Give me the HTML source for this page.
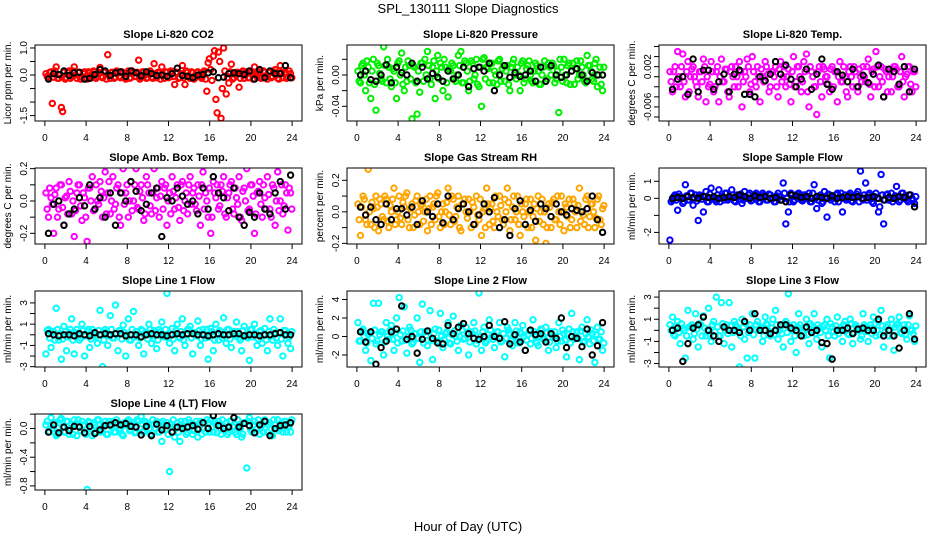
<!DOCTYPE html>
<html><head><meta charset="utf-8"><style>
html,body{margin:0;padding:0;background:#fff;}
svg{display:block;font-family:"Liberation Sans",sans-serif;}
</style></head><body>
<svg id="chart" width="936" height="540" viewBox="0 0 936 540">
<rect x="0" y="0" width="936" height="540" fill="#fff"/>
<text x="468" y="13" text-anchor="middle" font-size="13">SPL_130111  Slope Diagnostics</text>
<text x="468" y="531" text-anchor="middle" font-size="13">Hour of Day (UTC)</text>
</svg>
<script>
const xTicks=[0,4,8,12,16,20,24];
const co2Color=[0.05,-0.1,0.12,-0.08,0.3,-0.12,-1.2,0.1,-0.1,0.15,-0.05,0.3,-0.12,0.1,-0.08,0.12,-0.15,0.08,-0.1,0.12,-0.05,0.28,-0.1,0.1,0.75,-0.12,0.1,-0.08,0.12,-0.1,0.08,-0.15,0.15,-0.1,0.1,-0.05,0.55,-0.1,0.12,-0.12,0.1,-0.08,0.42,-0.1,0.08,0.3,-0.12,0.1,-0.08,0.12,-0.35,0.1,-0.1,0.35,-0.35,0.1,-0.12,0.08,-0.1,0.12,-0.05,0.1,-0.15,0.45,0.2,0.7,-0.9,0.85,-1.6,1.0,-0.7,-0.3,0.4,-0.1,0.1,-0.45,0.08,-0.12,0.12,-0.1,0.1,0.3,-0.08,0.12,-0.1,0.1,-0.15,0.12,-0.05,0.2,-0.12,0.35,-0.1,0.1,-0.08,0.05];
const co2Band=[-0.05,0.1,-1.05,0.15,-0.12,0.0,-1.35,-0.15,0.08,-0.12,0.15,0.0,0.1,-0.15,0.05,-0.1,0.12,0.0,0.15,-0.12,0.1,-0.05,0.12,-0.15,0.0,0.1,-0.12,0.15,-0.05,0.12,-0.1,0.05,-0.12,0.15,-0.05,0.1,-0.15,0.12,0.0,-0.1,0.15,-0.12,0.05,0.1,-0.15,0.0,0.12,-0.1,0.15,-0.05,0.1,-0.12,0.05,-0.1,0.15,-0.05,0.12,-0.15,0.1,0.0,-0.12,0.15,-0.6,0.6,-0.2,0.9,-1.4,0.5,-0.5,0.15,-0.1,0.12,-0.15,0.05,0.1,-0.12,0.15,0.0,-0.1,0.12,-0.15,0.05,0.1,-0.12,0.15,-0.05,0.1,-0.1,0.12,0.0,-0.15,0.1,0.05,-0.12,0.15,-0.1];
const co2Black=[-0.15,0.05,0.02,0.15,-0.02,0.08,0.1,-0.15,-0.12,0.02,0.2,0.15,-0.02,0.08,0.12,-0.05,0.15,0.08,-0.03,0.12,0.05,-0.02,0.0,-0.05,0.05,0.25,-0.02,-0.05,-0.1,0.0,0.02,0.08,0.12,-0.1,-0.08,0.05,0.08,0.05,0.02,0.15,-0.15,0.2,-0.1,0.15,0.05,0.05,0.35,-0.1];
const presColor=[0.005,-0.01,0.015,-0.02,0.01,-0.03,0.02,-0.045,0.012,-0.005,0.036,-0.01,0.01,-0.015,0.005,-0.03,0.018,0.028,-0.02,-0.008,0.012,-0.056,0.01,-0.05,-0.022,0.015,0.02,0.03,-0.005,0.01,-0.03,0.025,0.015,-0.02,0.01,-0.028,0.005,0.012,-0.008,0.025,0.03,-0.01,0.015,-0.02,0.018,-0.005,0.02,-0.015,-0.04,0.022,0.01,-0.01,0.015,0.005,-0.012,0.02,0.008,-0.008,0.012,-0.02,0.015,0.0,0.01,-0.02,0.018,-0.005,0.012,0.0,-0.01,0.015,0.005,-0.012,0.01,-0.008,0.015,0.0,0.012,-0.005,-0.048,0.01,0.02,-0.01,0.015,0.005,-0.012,0.018,0.0,0.01,-0.008,0.025,0.012,-0.005,0.015,-0.015,0.01,-0.02];
const presBand=[-0.008,0.012,0.0,0.018,-0.01,0.005,-0.012,0.015,0.002,-0.008,0.012,0.02,-0.005,0.008,-0.01,0.015,0.0,-0.012,0.01,0.018,-0.005,0.012,-0.01,0.005,0.015,-0.008,0.0,0.012,-0.012,0.018,0.005,-0.005,0.01,0.02,-0.01,0.008,0.015,-0.005,0.0,0.012,-0.01,0.018,0.005,-0.008,0.015,0.0,-0.012,0.01,0.02,-0.005,0.008,0.015,-0.01,0.0,0.018,-0.008,0.012,0.005,-0.012,0.01,0.02,-0.005,0.0,0.015,-0.01,0.008,0.018,-0.008,0.005,0.012,-0.012,0.0,0.018,-0.005,0.01,0.015,-0.01,0.005,0.02,-0.008,0.0,0.012,-0.012,0.015,0.008,-0.005,0.018,0.0,-0.01,0.012,0.005,-0.008,0.02,0.0,-0.012,0.01];
const presBlack=[0.0,0.005,-0.006,-0.008,0.0,0.013,-0.01,0.01,0.003,0.0,0.015,-0.008,0.01,-0.005,0.002,-0.003,-0.008,0.005,-0.005,0.0,0.01,-0.015,0.008,0.01,0.005,0.015,-0.02,0.0,0.012,-0.003,0.003,-0.002,0.0,0.005,-0.008,0.01,-0.008,0.012,0.0,-0.003,0.0,0.005,0.008,0.0,-0.008,0.003,0.0,0.0];
const tempColor=[0.001,-0.003,0.002,0.005,-0.002,0.0045,-0.004,0.003,0.0,0.002,-0.001,-0.004,0.001,0.0035,-0.005,-0.002,0.003,-0.003,0.001,-0.005,0.0035,-0.001,0.0015,-0.004,0.002,-0.002,0.0,0.003,-0.006,0.001,0.0035,-0.003,0.004,-0.001,0.002,-0.005,0.0,0.003,0.0005,-0.002,0.001,0.002,-0.004,0.003,0.0,-0.002,0.0015,-0.005,0.004,-0.001,0.002,-0.003,0.003,0.0045,-0.006,0.001,-0.002,-0.0075,0.002,-0.004,0.0015,0.0,-0.003,0.002,0.001,-0.005,0.003,-0.001,0.0,-0.004,0.002,-0.002,0.001,-0.003,0.0,0.002,-0.001,0.0035,-0.004,0.0015,0.005,-0.002,0.002,-0.004,0.001,0.0,-0.003,0.002,0.0015,-0.002,0.004,-0.004,0.0005,0.002,-0.003,0.001];
const tempBand=[-0.001,0.001,-0.002,0.0,0.002,-0.001,0.001,-0.003,0.0015,0.0,-0.002,0.001,-0.001,0.002,0.0,-0.0015,0.001,-0.002,0.002,0.0,-0.001,0.0015,-0.003,0.001,0.0,0.002,-0.002,0.001,-0.001,0.0,0.002,-0.0015,0.001,-0.002,0.0,0.0015,-0.001,0.002,-0.003,0.001,0.0,-0.002,0.0015,-0.001,0.002,0.0,-0.0015,0.001,-0.002,0.002,0.0,-0.001,0.001,-0.003,0.002,0.0,-0.002,0.001,-0.001,0.002,0.0,-0.0015,0.0015,-0.002,0.001,0.0,-0.001,0.002,-0.003,0.001,0.0,0.002,-0.002,0.0015,-0.001,0.0,0.002,-0.0015,0.001,-0.002,0.002,0.0,-0.001,0.0015,-0.003,0.001,0.0,0.002,-0.002,0.001,-0.001,0.0,0.002,-0.0015,0.001,-0.002];
const tempBlack=[-0.0025,-0.0005,0.0,-0.0035,0.0035,-0.003,0.0013,0.0013,-0.0025,-0.001,0.0005,-0.003,0.0005,0.0013,-0.0035,-0.0035,-0.004,0.0,-0.0008,0.0005,0.003,0.0005,0.0023,-0.0005,-0.002,-0.0005,0.0015,-0.0025,0.0005,0.0035,-0.0015,-0.0025,0.001,0.0003,-0.001,0.0015,-0.002,0.0003,-0.0012,0.0005,0.0023,-0.004,0.0015,0.001,-0.0015,0.002,-0.003,0.0015];
const ambColor=[0.05,-0.1,0.02,-0.2,0.08,-0.05,0.1,-0.15,0.03,0.12,-0.08,-0.22,0.05,0.1,-0.12,0.02,-0.25,0.08,0.15,-0.05,0.0,0.12,-0.1,0.18,0.05,-0.08,0.15,-0.02,0.1,-0.15,0.2,0.05,-0.1,0.12,0.0,0.2,-0.05,0.1,-0.12,0.15,0.05,-0.08,0.2,0.02,-0.1,0.12,0.08,-0.15,0.05,0.15,-0.05,0.1,-0.12,0.12,0.0,-0.08,0.15,0.05,-0.02,0.1,-0.15,0.18,0.05,-0.1,-0.2,0.12,0.02,-0.05,0.1,0.15,-0.1,0.05,0.12,-0.08,0.02,0.15,-0.12,0.08,0.2,-0.05,0.1,-0.2,0.05,0.12,-0.1,0.02,0.15,-0.05,0.1,-0.15,0.18,0.0,-0.08,0.1,-0.18,0.05];
const ambBand=[-0.05,0.08,-0.02,0.04,-0.1,0.1,-0.04,0.02,-0.08,0.06,0.0,-0.06,0.1,-0.03,0.05,-0.1,0.08,0.0,-0.06,0.1,-0.02,0.06,0.02,-0.08,0.12,0.0,-0.05,0.08,-0.1,0.05,-0.02,0.1,0.0,-0.06,0.1,-0.04,0.06,0.02,-0.08,0.1,-0.03,0.05,-0.06,0.08,0.03,-0.05,0.1,0.0,-0.08,0.06,0.02,-0.04,0.1,-0.06,0.05,0.1,-0.02,0.08,-0.06,0.03,0.1,-0.05,0.0,0.08,-0.1,0.05,0.1,-0.03,0.06,-0.08,0.02,0.1,-0.05,0.08,-0.02,-0.1,0.06,0.0,-0.06,0.1,0.03,-0.08,0.06,-0.02,0.1,-0.05,0.04,-0.1,0.08,0.0,-0.06,0.1,-0.03,0.05,0.08,-0.05];
const ambBlack=[-0.2,-0.02,0.0,-0.15,-0.08,-0.05,0.02,-0.03,0.1,-0.05,0.02,-0.1,0.05,-0.15,0.05,0.0,0.12,0.06,-0.06,-0.02,0.05,0.08,-0.22,0.02,0.0,0.08,0.03,-0.02,0.0,-0.08,0.08,-0.05,0.15,0.05,0.02,-0.06,0.08,-0.1,-0.15,-0.07,-0.1,0.05,-0.05,-0.08,0.05,0.12,-0.05,0.16];
const rhColor=[0.05,-0.15,0.1,-0.05,0.27,-0.08,0.02,0.1,-0.12,0.05,-0.05,0.08,-0.1,0.0,0.15,-0.05,0.1,-0.08,0.03,0.12,-0.1,0.05,-0.02,0.1,-0.08,0.05,0.0,-0.12,0.1,0.03,-0.05,0.12,-0.1,0.05,0.0,0.15,-0.08,0.08,-0.03,0.1,-0.12,0.05,0.0,0.08,-0.1,0.03,0.1,-0.05,-0.15,0.02,0.15,-0.08,0.05,-0.1,0.0,0.1,-0.05,0.08,0.15,-0.12,0.03,-0.05,0.1,-0.15,0.0,0.05,-0.1,0.08,-0.03,-0.18,0.1,0.0,-0.08,-0.2,0.05,-0.1,0.08,-0.05,0.0,0.1,-0.12,0.03,0.08,-0.05,0.05,-0.1,0.15,0.0,-0.08,0.1,-0.03,0.05,-0.1,0.08,-0.05,0.02];
const rhBand=[-0.05,0.03,0.08,-0.08,0.0,0.06,-0.1,0.03,0.08,-0.03,0.1,-0.06,0.04,0.08,-0.08,0.0,-0.04,0.06,0.1,-0.05,0.02,-0.1,0.07,0.0,0.04,-0.06,0.08,0.02,-0.08,0.05,0.1,-0.03,0.0,-0.08,0.06,-0.02,0.1,-0.06,0.03,-0.1,0.05,0.08,-0.04,0.0,0.06,-0.08,-0.02,0.08,0.0,-0.1,0.05,0.02,-0.06,0.1,-0.03,0.04,-0.08,0.0,0.06,-0.05,0.1,0.0,-0.08,0.05,-0.03,0.08,0.0,-0.1,0.05,0.02,-0.06,0.08,0.0,-0.1,0.03,0.06,-0.05,0.1,-0.08,0.0,0.05,-0.03,-0.1,0.08,0.0,0.04,-0.06,-0.02,0.08,-0.1,0.05,0.0,-0.04,0.1,-0.08,0.04];
const rhBlack=[0.03,-0.02,0.03,-0.05,-0.08,0.05,-0.05,0.02,0.02,-0.02,0.03,-0.08,0.07,0.0,-0.03,0.05,-0.07,0.1,-0.05,0.02,0.05,0.0,-0.08,-0.02,0.05,0.0,0.09,-0.1,-0.05,-0.15,0.02,0.07,-0.08,0.01,-0.06,0.05,0.02,-0.03,0.05,0.0,-0.02,0.02,0.01,0.0,0.02,0.1,-0.05,-0.13];
const sampColor=[-2.45,-0.1,0.2,-0.7,0.1,-0.3,0.8,-0.1,0.3,-0.4,0.2,-1.3,0.1,-0.8,0.4,-0.2,0.6,0.0,-0.2,0.5,0.1,-0.1,0.3,0.0,0.5,-0.15,0.2,0.1,-0.3,0.4,0.0,0.3,-0.1,0.2,0.0,-0.2,0.3,0.1,-0.1,0.2,0.0,-0.2,0.3,0.1,0.9,-1.5,-0.8,0.3,-0.2,0.1,0.3,-0.1,0.2,0.0,0.3,-0.2,0.8,-0.6,0.1,-0.3,0.4,-1.1,0.2,0.0,-0.2,0.3,0.1,-0.8,0.2,0.0,0.3,-0.2,0.1,0.4,1.6,-0.1,0.9,0.2,0.0,-0.3,0.3,-0.8,1.4,-1.5,0.2,-0.1,0.3,0.0,0.7,-0.2,0.3,0.1,-0.1,0.2,0.0,-0.3];
const sampBand=[-0.2,0.1,-0.1,0.25,0.0,-0.2,0.15,-0.1,0.3,0.0,-0.15,0.2,-0.05,0.1,-0.2,0.25,0.0,-0.1,0.2,-0.2,0.1,0.3,-0.1,0.0,0.2,-0.2,0.1,0.25,-0.1,0.0,0.2,-0.15,0.1,0.3,-0.2,0.05,0.2,-0.1,0.25,0.0,-0.2,0.15,0.1,-0.1,0.3,0.0,-0.2,0.2,-0.1,0.25,0.0,-0.15,0.2,0.1,-0.2,0.3,0.0,-0.1,0.2,-0.2,0.1,0.25,-0.1,0.0,0.2,-0.2,0.3,0.0,-0.1,0.2,-0.15,0.1,0.25,-0.2,0.0,0.2,-0.1,0.3,-0.2,0.1,0.0,-0.5,0.2,-0.1,0.25,0.0,-0.2,0.15,0.1,-0.1,0.3,0.0,-0.2,0.2,-0.1,0.1];
const sampBlack=[0.0,0.05,0.0,0.1,0.05,0.0,0.1,0.05,0.1,0.0,0.05,0.1,0.05,0.2,0.1,0.0,0.15,0.05,0.1,0.0,0.05,-0.1,-0.2,0.2,0.15,0.05,0.1,0.0,0.1,0.05,0.0,0.15,0.0,0.05,0.1,0.05,0.1,0.0,0.05,0.1,0.0,-0.1,0.05,0.0,0.1,0.05,0.2,-0.5];
const l1Color=[-1.8,0.5,-1.2,0.3,2.5,-0.5,-2.3,0.8,-1.5,0.2,1.5,-1.8,0.5,-0.5,1.0,-2.0,0.3,-1.2,0.5,0.0,-0.8,2.3,-3.0,0.5,-1.0,1.8,-0.3,2.8,-1.5,0.4,0.9,-2.0,1.5,-0.5,2.2,0.3,-1.0,0.5,-1.8,0.2,1.0,-0.8,0.4,-1.3,0.5,1.2,-0.2,3.9,-0.8,0.6,-1.5,1.0,-0.3,1.5,-1.0,0.5,0.8,-1.8,0.2,1.3,-1.0,0.5,-0.3,-2.3,0.6,-1.5,1.0,-0.5,0.3,1.6,-0.8,0.5,-1.2,0.3,1.2,-0.3,-1.5,0.8,-0.2,-2.4,0.5,1.0,-1.0,0.3,-0.8,0.6,-1.5,1.5,-0.5,0.2,-1.0,1.5,-2.0,0.4,-0.8,-1.3];
const l1Band=[0.4,-0.3,0.2,-0.5,0.5,0.0,-0.4,0.3,-0.2,0.5,-0.5,0.2,0.0,-0.3,0.4,-0.1,0.5,-0.4,0.2,-0.2,0.4,0.0,-0.5,0.3,-0.1,0.5,-0.3,0.1,0.4,-0.4,0.2,0.0,-0.5,0.5,-0.2,0.3,-0.3,0.4,0.0,-0.4,0.5,-0.1,0.2,-0.5,0.3,0.0,0.5,-0.3,0.1,-0.4,0.4,-0.2,0.3,-0.5,0.0,0.5,-0.3,0.2,-0.1,0.4,-0.4,0.0,0.5,-0.2,0.3,-0.5,0.1,0.4,-0.3,0.0,0.5,-0.4,0.2,-0.1,0.3,-0.5,0.4,0.0,-0.3,0.5,-0.2,0.1,-0.4,0.4,0.0,-0.5,0.3,-0.1,0.5,-0.3,0.2,-0.4,0.4,0.0,-0.2,0.3];
const l1Black=[0.1,0.0,-0.1,0.0,0.0,-0.1,0.1,0.0,-0.1,0.2,0.0,0.1,0.0,0.1,0.1,-0.1,0.0,0.0,-0.2,0.0,0.1,0.0,0.0,-0.1,0.0,0.1,0.0,0.1,0.1,0.0,0.0,-0.1,0.0,0.1,0.0,0.0,0.1,0.1,-0.1,0.0,0.0,-0.1,0.0,0.0,0.1,0.2,0.0,0.0];
const l2Color=[1.5,-0.5,0.8,-1.5,0.2,-2.6,3.6,-0.8,3.6,0.5,-2.0,1.5,-0.3,1.2,-1.5,2.0,4.2,-0.5,3.2,-1.8,1.0,-0.8,0.3,2.0,-2.8,3.5,0.5,-1.0,2.8,-2.5,0.8,-0.5,2.5,-1.2,0.3,1.5,-0.8,2.2,0.0,-1.5,1.2,-0.3,1.0,-2.0,0.5,1.5,-0.8,4.7,-1.5,1.0,-0.5,1.8,0.0,-1.2,0.5,1.5,-0.5,-2.2,1.0,0.3,-1.0,1.5,-0.5,0.5,1.2,-1.5,0.2,-0.8,1.8,0.0,-1.0,0.8,-0.3,1.0,-1.5,0.5,0.0,-1.2,1.5,-0.5,0.3,-2.2,0.8,2.5,-0.3,0.5,-2.5,1.0,-0.5,1.8,-0.8,0.3,-2.8,1.0,-0.3,-1.5];
const l2Band=[-0.5,0.6,0.0,-0.7,0.4,-0.2,0.7,-0.5,0.2,0.5,-0.6,0.0,0.7,-0.3,0.4,-0.7,0.2,0.6,-0.4,0.0,0.7,-0.6,0.3,-0.2,0.5,-0.7,0.1,0.6,-0.4,0.3,-0.6,0.7,0.0,-0.3,0.5,-0.7,0.2,0.6,-0.5,0.0,0.7,-0.2,0.4,-0.6,0.3,0.6,-0.4,0.0,0.5,-0.7,0.2,0.7,-0.3,0.0,0.5,-0.6,0.3,-0.2,0.7,-0.5,0.1,0.6,-0.7,0.3,0.0,-0.4,0.6,-0.2,0.5,-0.7,0.0,0.7,-0.3,0.4,-0.6,0.2,0.5,-0.5,0.0,0.7,-0.4,0.3,-0.7,0.5,0.0,-0.2,0.6,-0.6,0.3,0.0,0.7,-0.5,0.2,-0.3,0.5,-0.7];
const l2Black=[0.5,-0.6,0.5,-3.0,-1.2,-0.5,0.5,0.8,3.3,-0.3,0.0,-1.8,-0.3,0.6,-0.2,-0.7,-0.8,1.2,0.3,1.0,1.4,0.3,-0.2,-0.3,0.0,1.2,0.0,-0.2,1.6,-0.8,0.2,-0.6,-1.5,0.7,0.2,0.3,-0.6,0.3,-0.2,2.0,-1.2,0.0,-0.2,-1.1,0.8,-2.0,-1.0,1.5];
const l3Color=[0.5,1.2,-0.5,0.8,-1.2,0.2,-2.5,1.8,0.3,-0.8,1.5,-1.5,0.5,1.3,-0.5,2.0,-1.0,0.8,3.0,-0.5,2.5,-1.2,0.5,2.5,-1.5,0.8,0.3,-3.3,1.0,-0.8,-2.5,0.5,1.5,-2.5,0.8,0.2,-1.0,1.2,0.5,-0.5,1.0,1.8,-0.8,0.3,-1.5,0.8,3.3,-1.0,0.5,-2.0,1.5,0.2,-0.5,1.0,-1.2,0.4,1.5,-0.8,0.2,-1.5,0.5,1.0,-2.5,0.3,-0.5,1.2,0.0,-1.0,0.8,-0.3,1.0,-1.2,0.5,0.2,-0.8,1.5,0.3,-1.0,0.5,1.2,-0.5,0.8,1.8,-1.5,0.3,-0.5,1.0,-1.8,0.5,1.2,-0.3,0.5,-0.8,1.3,0.0,-1.0];
const l3Band=[0.0,-0.4,0.4,-0.2,0.6,0.0,-0.5,0.3,0.5,-0.3,0.1,0.6,-0.5,0.2,0.0,-0.4,0.5,-0.1,0.3,-0.5,0.6,0.0,-0.3,0.4,-0.2,0.5,0.0,-0.5,0.3,0.6,-0.2,0.1,-0.4,0.5,0.0,0.3,-0.5,0.6,-0.1,0.2,-0.4,0.5,0.0,-0.3,0.6,-0.2,0.4,0.0,-0.5,0.3,0.5,-0.1,0.2,-0.4,0.6,0.0,-0.3,0.5,-0.2,0.3,0.0,-0.5,0.6,-0.1,0.4,-0.3,0.2,0.5,0.0,-0.4,0.6,-0.2,0.3,0.0,-0.5,0.5,-0.1,0.2,-0.3,0.6,0.0,-0.4,0.4,-0.2,0.5,0.0,-0.5,0.3,0.6,-0.2,0.1,-0.4,0.5,0.0,-0.3,0.4];
const l3Black=[0.0,0.2,-2.8,-1.2,0.2,0.5,1.2,0.0,-0.5,-1.0,0.3,0.0,0.0,-0.2,0.8,0.0,1.5,0.0,0.0,-0.3,0.0,0.5,0.5,0.2,0.0,-0.5,0.3,-0.2,0.0,-1.1,-1.2,-2.6,0.0,0.0,0.2,-0.3,0.1,0.2,0.0,0.0,1.0,-0.5,0.0,-0.5,-1.6,0.0,1.5,-0.8];
const l4Color=[0.05,-0.05,0.15,0.0,-0.1,0.08,0.14,-0.05,0.1,-0.08,0.05,0.12,-0.1,0.03,0.1,-0.05,-0.85,0.08,-0.1,0.05,0.12,-0.05,0.02,0.1,-0.08,0.05,0.1,-0.05,0.08,0.0,-0.1,0.05,0.12,-0.02,0.08,-0.05,0.1,0.17,-0.05,0.08,0.0,-0.1,0.06,0.1,-0.05,-0.18,0.05,0.08,-0.6,0.02,-0.12,0.08,-0.18,0.05,0.1,-0.05,0.08,-0.08,0.05,-0.12,0.1,0.0,-0.05,0.08,0.12,-0.05,0.05,0.1,-0.08,0.03,0.08,-0.05,0.1,0.02,-0.08,0.05,-0.12,0.08,-0.55,0.15,-0.05,0.1,0.0,-0.08,0.05,0.12,-0.05,0.08,-0.1,0.05,0.12,0.0,-0.05,0.1,0.03,-0.05];
const l4Band=[0.1,-0.05,0.0,0.08,-0.08,0.12,0.02,-0.05,0.1,0.0,-0.08,0.06,0.12,-0.03,0.05,-0.08,0.1,0.0,0.08,-0.05,0.12,-0.02,0.05,-0.08,0.1,0.02,-0.05,0.12,0.0,-0.08,0.08,0.1,-0.03,0.05,-0.06,0.12,0.0,-0.05,0.1,0.05,-0.08,0.12,0.0,-0.05,0.08,0.1,-0.02,-0.08,0.06,0.12,0.0,-0.05,0.1,0.02,-0.08,0.12,0.05,-0.03,0.1,0.0,-0.08,0.08,0.12,-0.05,0.02,0.1,-0.06,0.05,0.12,0.0,-0.08,0.1,0.03,-0.05,0.12,0.0,-0.08,0.08,0.1,-0.02,0.05,-0.06,0.12,0.0,-0.05,0.1,0.05,-0.08,0.12,0.0,-0.03,0.08,0.1,-0.05,0.02,0.12];
const l4Black=[-0.05,0.05,-0.06,0.02,-0.03,0.03,0.02,-0.06,0.03,-0.07,-0.02,0.04,0.05,0.08,0.05,0.07,0.03,0.02,-0.09,0.03,-0.1,0.06,-0.02,0.04,-0.05,0.02,0.0,0.02,0.04,-0.01,0.08,0.0,0.18,0.04,0.0,0.02,0.15,0.02,0.07,0.04,-0.06,0.05,0.1,-0.1,0.0,0.04,0.05,0.08];

const co2Ticks=[-1.5,-1,-0.5,0,0.5,1], co2Labels=["-1.5","","","0.0","","1.0"];
const presTicks=[-0.04,-0.02,0,0.02], presLabels=["-0.04","","0.00",""];
const tempTicks=[-0.008,-0.006,-0.004,-0.002,0,0.002,0.004,0.006], tempLabels=["","-0.006","","","","0.002","",""];
const ambTicks=[-0.2,-0.1,0,0.1,0.2], ambLabels=["-0.2","","0.0","","0.2"];
const rhTicks=[-0.2,-0.1,0,0.1,0.2], rhLabels=["-0.2","","0.0","","0.2"];
const sampTicks=[-2,-1,0,1], sampLabels=["-2","","0","1"];
const l1Ticks=[-3,-2,-1,0,1,2,3], l1Labels=["-3","","-1","","1","","3"];
const l2Ticks=[-2,0,2,4], l2Labels=["-2","0","2","4"];
const l3Ticks=[-3,-2,-1,0,1,2,3], l3Labels=["-3","","-1","","1","","3"];
const l4Ticks=[-0.8,-0.6,-0.4,-0.2,0,0.2], l4Labels=["-0.8","","-0.4","","0.0",""];

const panels=[
 {name:"co2",title:"Slope Li-820 CO2",ylab:"Licor ppm per min.",col:0,row:0,lo:-1.7,hi:1.11,color:"#ff0000",c:co2Color,d:co2Band,b:co2Black,t:co2Ticks,l:co2Labels},
 {name:"pressure",title:"Slope Li-820 Pressure",ylab:"kPa per min.",col:1,row:0,lo:-0.0588,hi:0.0383,color:"#00ee00",c:presColor,d:presBand,b:presBlack,t:presTicks,l:presLabels},
 {name:"temp",title:"Slope Li-820 Temp.",ylab:"degrees C per min.",col:2,row:0,lo:-0.0088,hi:0.0063,color:"#ff00ff",c:tempColor,d:tempBand,b:tempBlack,t:tempTicks,l:tempLabels},
 {name:"amb-box-temp",title:"Slope Amb. Box Temp.",ylab:"degrees C per min.",col:0,row:1,lo:-0.266,hi:0.204,color:"#ff00ff",c:ambColor,d:ambBand,b:ambBlack,t:ambTicks,l:ambLabels},
 {name:"gas-stream-rh",title:"Slope Gas Stream RH",ylab:"percent per min.",col:1,row:1,lo:-0.204,hi:0.278,color:"#ffa500",c:rhColor,d:rhBand,b:rhBlack,t:rhTicks,l:rhLabels},
 {name:"sample-flow",title:"Slope Sample Flow",ylab:"ml/min per min.",col:2,row:1,lo:-2.68,hi:1.78,color:"#0000ff",c:sampColor,d:sampBand,b:sampBlack,t:sampTicks,l:sampLabels},
 {name:"line1-flow",title:"Slope Line 1 Flow",ylab:"ml/min per min.",col:0,row:2,lo:-3.03,hi:4.12,color:"#00ffff",c:l1Color,d:l1Band,b:l1Black,t:l1Ticks,l:l1Labels},
 {name:"line2-flow",title:"Slope Line 2 Flow",ylab:"ml/min per min.",col:1,row:2,lo:-3.3,hi:4.92,color:"#00ffff",c:l2Color,d:l2Band,b:l2Black,t:l2Ticks,l:l2Labels},
 {name:"line3-flow",title:"Slope Line 3 Flow",ylab:"ml/min per min.",col:2,row:2,lo:-3.31,hi:3.55,color:"#00ffff",c:l3Color,d:l3Band,b:l3Black,t:l3Ticks,l:l3Labels},
 {name:"line4-flow",title:"Slope Line 4 (LT) Flow",ylab:"ml/min per min.",col:0,row:3,lo:-0.857,hi:0.202,color:"#00ffff",c:l4Color,d:l4Band,b:l4Black,t:l4Ticks,l:l4Labels}
];

const NS="http://www.w3.org/2000/svg";
const svg=document.getElementById('chart');
function mk(tag,attrs,parent){const e=document.createElementNS(NS,tag);for(const k in attrs)e.setAttribute(k,attrs[k]);(parent||svg).appendChild(e);return e;}

panels.forEach(p=>{
  const g=mk('g',{});
  
  
  const L=p.col*312+35, R=p.col*312+302, T=45+123*p.row, B=T+76;
  const xs=h=>L+(h+0.96)/25.92*(R-L);
  const ys=v=>B-(v-p.lo)/(p.hi-p.lo)*(B-T);
  const clip=mk('clipPath',{id:'clip-'+p.name},g);
  mk('rect',{x:L,y:T,width:R-L,height:B-T},clip);
  const title=mk('text',{x:(L+R)/2,y:T-7,'text-anchor':'middle','font-size':'11','font-weight':'bold'},g);
  title.textContent=p.title;
  
  
  const yl=mk('text',{x:0,y:0,'text-anchor':'middle','font-size':'10',transform:`translate(${p.col*312+11},${(T+B)/2}) rotate(-90)`},g);
  yl.textContent=p.ylab;
  
  
  const pts=mk('g',{'clip-path':`url(#clip-${p.name})`},g);
  
  
  const n=p.c.length;
  p.c.forEach((v,i)=>{
    const c=mk('circle',{cx:xs(i*24/n+0.1),cy:ys(v),r:2.7,fill:'none',stroke:p.color,'stroke-width':2},pts);
    
    
  });
  const nd=p.d.length;
  p.d.forEach((v,i)=>{
    const c=mk('circle',{cx:xs(i*24/nd+0.22),cy:ys(v),r:2.7,fill:'none',stroke:p.color,'stroke-width':2},pts);
    
    
  });
  const m=p.b.length;
  p.b.forEach((v,i)=>{
    const c=mk('circle',{cx:xs(i*24/m+0.35),cy:ys(v),r:2.7,fill:'none',stroke:'#000','stroke-width':2},pts);
    
    
  });
  const box=mk('rect',{x:L,y:T,width:R-L,height:B-T,fill:'none',stroke:'#000','stroke-width':1},g);
  
  
  mk('line',{x1:xs(0),x2:xs(24),y1:B,y2:B,stroke:'#000'},g);
  xTicks.forEach(t=>{
    mk('line',{x1:xs(t),x2:xs(t),y1:B,y2:B+5,stroke:'#000'},g);
    const tl=mk('text',{x:xs(t),y:B+20,'text-anchor':'middle','font-size':'10'},g);
    tl.textContent=String(t);
    
    
  });
  mk('line',{x1:L,x2:L,y1:ys(p.t[0]),y2:ys(p.t[p.t.length-1]),stroke:'#000'},g);
  p.t.forEach((t,i)=>{
    mk('line',{x1:L-5,x2:L,y1:ys(t),y2:ys(t),stroke:'#000'},g);
    if(p.l[i]){
      const tl=mk('text',{x:0,y:0,'text-anchor':'middle','font-size':'10',transform:`translate(${L-8},${ys(t)}) rotate(-90)`},g);
      tl.textContent=p.l[i];
      
      
    }
  });
});
</script>
</body></html>
